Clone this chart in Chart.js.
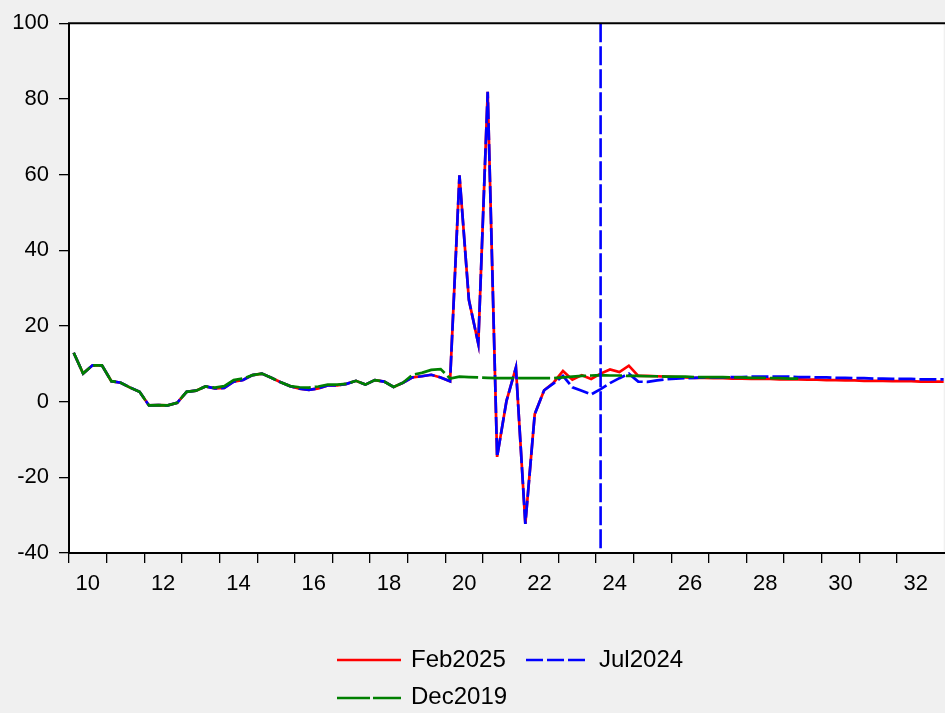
<!DOCTYPE html>
<html>
<head>
<meta charset="utf-8">
<script src="https://cdn.jsdelivr.net/npm/chart.js@4"></script>
<style>
html, body { margin: 0; padding: 0; background: #f0f0f0; }
#wrap { position: relative; width: 945px; height: 713px; overflow: hidden; background: #f0f0f0; }
#c { position: absolute; left: 0; top: 0; }
.legtext { position: absolute; font-family: 'Liberation Sans', Arial, sans-serif; font-size: 24px; line-height: 24px; color: #000; white-space: nowrap; }
.legline { position: absolute; }
</style>
</head>
<body>
<div id="wrap">
  <canvas id="c" width="945" height="713"></canvas>
  <svg class="legline" style="left:337px;top:655px" width="64" height="10"><line x1="0" y1="5" x2="64" y2="5" stroke="#ff0000" stroke-width="2.5"/></svg>
  <div class="legtext" style="left:411px;top:647px">Feb2025</div>
  <svg class="legline" style="left:526px;top:655px" width="59" height="10"><line x1="0" y1="5" x2="59" y2="5" stroke="#0000ff" stroke-width="2.5" stroke-dasharray="17,4"/></svg>
  <div class="legtext" style="left:599px;top:647px">Jul2024</div>
  <svg class="legline" style="left:337px;top:693px" width="64" height="10"><line x1="0" y1="5" x2="64" y2="5" stroke="#008000" stroke-width="2.5" stroke-dasharray="33,3"/></svg>
  <div class="legtext" style="left:411px;top:684px">Dec2019</div>
</div>
<script>
// ---- Categories (quarters 2010Q1 .. 2033Q2) ----
const startYear = 2010;
const quarters = [];
for (let y = startYear; y <= 2033; y++) {
  for (let q = 1; q <= 4; q++) {
    if (y === 2033 && q > 2) break;
    quarters.push(y + 'Q' + q);
  }
}

// ---- Series values ----
const feb2025 = [
  12.9, 7.4, 9.6, 9.6, 5.4, 5.0, 3.7, 2.6, -1.0, -0.9,
  -1.0, -0.3, 2.6, 2.9, 4.0, 3.5, 3.6, 5.3, 5.7, 7.0,
  7.4, 6.3, 5.1, 4.1, 3.4, 3.1, 3.5, 4.3, 4.3, 4.7,
  5.5, 4.5, 5.7, 5.3, 3.9, 5.0, 6.4, 6.7, 7.1, 6.4,
  5.4, 59.8, 26.9, 15.3, 81.9, -14.6, 0.2, 9.0, -32.3, -3.3,
  3.0, 5.0, 8.1, 5.8, 7.0, 6.0, 7.4, 8.5, 7.8, 9.5,
  6.8, 6.8, 6.7, 6.6, 6.5, 6.4, 6.3, 6.3, 6.2, 6.2,
  6.1, 6.1, 6.0, 6.0, 6.0, 5.9, 5.9, 5.9, 5.8, 5.8,
  5.7, 5.7, 5.6, 5.6, 5.5, 5.5, 5.5, 5.4, 5.4, 5.4,
  5.3, 5.3, 5.3, 5.2
];
const jul2024 = [
  12.9, 7.4, 9.6, 9.6, 5.4, 5.0, 3.7, 2.6, -1.0, -0.9,
  -1.0, -0.3, 2.6, 2.9, 4.0, 3.5, 3.6, 5.3, 5.7, 7.0,
  7.4, 6.3, 5.1, 4.1, 3.4, 3.1, 3.5, 4.3, 4.3, 4.7,
  5.5, 4.5, 5.7, 5.3, 3.9, 5.0, 6.4, 6.7, 7.1, 6.4,
  5.4, 59.8, 26.9, 15.3, 81.9, -14.6, 0.2, 9.0, -32.3, -3.3,
  3.0, 4.8, 6.8, 3.8, 2.9, 1.9, 3.3, 4.9, 6.2, 7.4,
  5.3, 5.2, 5.6, 5.9, 6.1, 6.2, 6.3, 6.4, 6.4, 6.4,
  6.5, 6.5, 6.6, 6.6, 6.6, 6.6, 6.6, 6.5, 6.5, 6.4,
  6.4, 6.3, 6.3, 6.2, 6.2, 6.1, 6.1, 6.0, 6.0, 6.0,
  5.9, 5.9, 5.9, 5.9
];
const dec2019 = [
  12.9, 7.4, 9.6, 9.6, 5.4, 5.0, 3.7, 2.6, -1.0, -0.9,
  -1.0, -0.3, 2.6, 2.9, 4.0, 3.7, 4.1, 5.7, 6.1, 7.0,
  7.4, 6.3, 5.1, 4.1, 3.8, 3.7, 4.0, 4.5, 4.5, 4.7,
  5.5, 4.5, 5.7, 5.3, 3.9, 5.0, 7.1, 7.6, 8.4, 8.6,
  6.1, 6.6, 6.5, 6.4, 6.3, 6.2, 6.2, 6.2, 6.2, 6.2,
  6.2, 6.2, 6.4, 6.6, 6.8, 6.9, 7.0, 6.9, 6.9, 6.8,
  6.8, 6.7, 6.7, 6.6, 6.6, 6.6, 6.5, 6.5, 6.5, 6.5,
  6.4, 6.4, 6.3, 6.3, 6.2, 6.2, 6.1, 6.1
];
const forecastMarker = '2024Q1';

// ---- Axis settings ----
const yMin = -40, yMax = 100, yStep = 20;
const xMin = 2010, xMax = 2033.24;

function qToX(label) {
  const y = parseInt(label.slice(0, 4), 10);
  const q = parseInt(label.slice(5), 10);
  return y + (q - 0.5) / 4;
}
function toPoints(arr) {
  return arr.map((v, i) => ({ x: qToX(quarters[i]), y: v }));
}

const FONT = "'Liberation Sans', Arial, sans-serif";

const framePlugin = {
  id: 'frame',
  beforeDraw(chart) {
    const { ctx, chartArea: a } = chart;
    ctx.save();
    ctx.fillStyle = '#f0f0f0';
    ctx.fillRect(0, 0, chart.width, chart.height);
    ctx.fillStyle = '#ffffff';
    ctx.fillRect(a.left, a.top, a.right - a.left, a.bottom - a.top);
    ctx.restore();
  },
  afterDatasetsDraw(chart) {
    const { ctx, chartArea: a, scales } = chart;
    const x = scales.x.getPixelForValue(qToX(forecastMarker));
    ctx.save();
    ctx.strokeStyle = '#0000ff';
    ctx.lineWidth = 2.6;
    ctx.setLineDash([19, 4]);
    ctx.beginPath();
    ctx.moveTo(x, a.top);
    ctx.lineTo(x, a.bottom);
    ctx.stroke();
    ctx.restore();
  },
  afterDraw(chart) {
    const { ctx, chartArea: a } = chart;
    ctx.save();
    ctx.strokeStyle = '#000';
    ctx.lineWidth = 2;
    ctx.beginPath();
    ctx.moveTo(chart.width + 5, a.top);
    ctx.lineTo(a.left, a.top);
    ctx.lineTo(a.left, a.bottom);
    ctx.lineTo(chart.width + 5, a.bottom);
    ctx.stroke();
    ctx.restore();
  }
};

const chart = new Chart(document.getElementById('c'), {
  type: 'line',
  data: {
    datasets: [
      { label: 'Feb2025', data: toPoints(feb2025), borderColor: '#ff0000', borderWidth: 2.7, pointRadius: 0, tension: 0, order: 3 },
      { label: 'Jul2024', data: toPoints(jul2024), borderColor: '#0000ff', borderWidth: 2.7, borderDash: [17, 4], pointRadius: 0, tension: 0, order: 2 },
      { label: 'Dec2019', data: toPoints(dec2019), borderColor: '#008000', borderWidth: 2.7, borderDash: [32, 4], pointRadius: 0, tension: 0, order: 1 }
    ]
  },
  options: {
    responsive: false,
    devicePixelRatio: 1,
    animation: false,
    layout: { padding: { top: 21, left: 0, right: 0, bottom: 100 } },
    plugins: { legend: { display: false }, tooltip: { enabled: false } },
    scales: {
      x: {
        type: 'linear',
        min: xMin,
        max: xMax,
        afterFit(scale) { scale.height = 60; },
        afterBuildTicks(scale) { scale.ticks = scale.ticks.filter(t => Number.isInteger(t.value)); },
        grid: { drawOnChartArea: false, drawTicks: true, tickLength: 10, color: '#000', lineWidth: 1.3 },
        border: { display: false },
        ticks: {
          stepSize: 1,
          autoSkip: false,
          maxRotation: 0,
          minRotation: 0,
          padding: 8,
          labelOffset: 18.8,
          color: '#000',
          font: { family: FONT, size: 22 },
          callback: (v) => (v % 2 === 0 ? String(v % 100).padStart(2, '0') : '')
        }
      },
      y: {
        min: yMin,
        max: yMax,
        afterFit(scale) { scale.width = 69; },
        grid: { drawOnChartArea: false, drawTicks: true, tickLength: 10, color: '#000', lineWidth: 1.3 },
        border: { display: false },
        ticks: {
          stepSize: yStep,
          padding: 10,
          color: '#000',
          font: { family: FONT, size: 22 }
        }
      }
    }
  },
  plugins: [framePlugin]
});
const xs = chart.scales.x;
chart.options.scales.x.ticks.labelOffset = (xs.getPixelForValue(2011) - xs.getPixelForValue(2010)) / 2;
chart.update('none');
</script>
</body>
</html>
